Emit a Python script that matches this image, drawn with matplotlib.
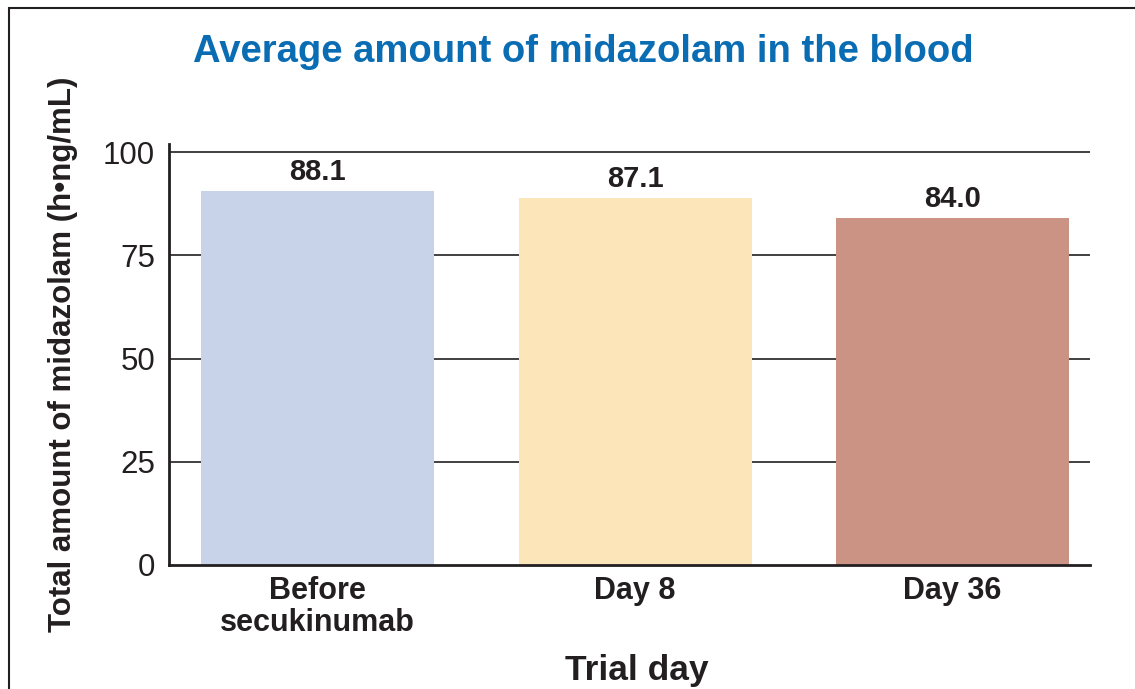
import matplotlib
matplotlib.use("Agg")
import matplotlib.pyplot as plt
from matplotlib.patches import Rectangle

categories = ["Before\nsecukinumab", "Day 8", "Day 36"]
bar_heights = [90.7, 88.9, 84.0]
value_labels = ["88.1", "87.1", "84.0"]
bar_colors = ["#c8d3ea", "#fce5b9", "#cb9384"]
yticks = [0, 25, 50, 75, 100]

plt.rcParams['font.family'] = ['Liberation Sans', 'DejaVu Sans']
dark = "#231f20"

fig = plt.figure(figsize=(11.35, 6.89), dpi=100)
W, H = 1135, 689
ax = fig.add_axes([169 / W, 1 - 565 / H, (1090 - 169) / W, (565 - 144) / H])

x = list(range(len(categories)))
ax.bar(x, bar_heights, width=0.734, color=bar_colors, zorder=2)
ax.set_xlim(-0.468, 2.433)
ax.set_ylim(0, 102)
ax.set_yticks(yticks)
ax.set_yticklabels([str(v) for v in yticks], fontsize=22.5, color=dark)
ax.set_xticks(x)
ax.set_xticklabels(categories, fontsize=22, fontweight='bold', color=dark, linespacing=1.1)
ax.tick_params(axis='y', length=0, pad=10)
ax.tick_params(axis='x', length=0, pad=8)
for v in yticks[1:]:
    ax.axhline(v, color=dark, lw=1.2, zorder=1)
for s in ['top', 'right']:
    ax.spines[s].set_visible(False)
for s in ['left', 'bottom']:
    ax.spines[s].set_color(dark)
    ax.spines[s].set_linewidth(2)
    ax.spines[s].set_zorder(3)

for xi, h, lab in zip(x, bar_heights, value_labels):
    ax.annotate(lab, (xi, h), xytext=(0, 3.5), textcoords='offset points',
                ha='center', va='bottom', fontsize=21, fontweight='bold', color=dark)

ax.set_xlabel("Trial day", fontsize=25.5, fontweight='bold', color=dark)
ax.xaxis.set_label_coords((637 - 169) / (1090 - 169), -(680 - 565) / (565 - 144))
ax.xaxis.label.set_va('baseline')
ax.set_ylabel("Total amount of midazolam (h•ng/mL)", fontsize=22.5, fontweight='bold',
              color=dark, labelpad=18)

fig.text(583 / W, 1 - 52 / H, "Average amount of midazolam in the blood", ha='center', va='center',
         fontsize=27.5, fontweight='bold', color="#0a6db3")

fig.patches.append(Rectangle((9 / W, -0.1), 1.2, (1 - 8 / H) + 0.1, transform=fig.transFigure,
                             fill=False, edgecolor=dark, lw=1.5))

fig.savefig("out.png", dpi=100)
